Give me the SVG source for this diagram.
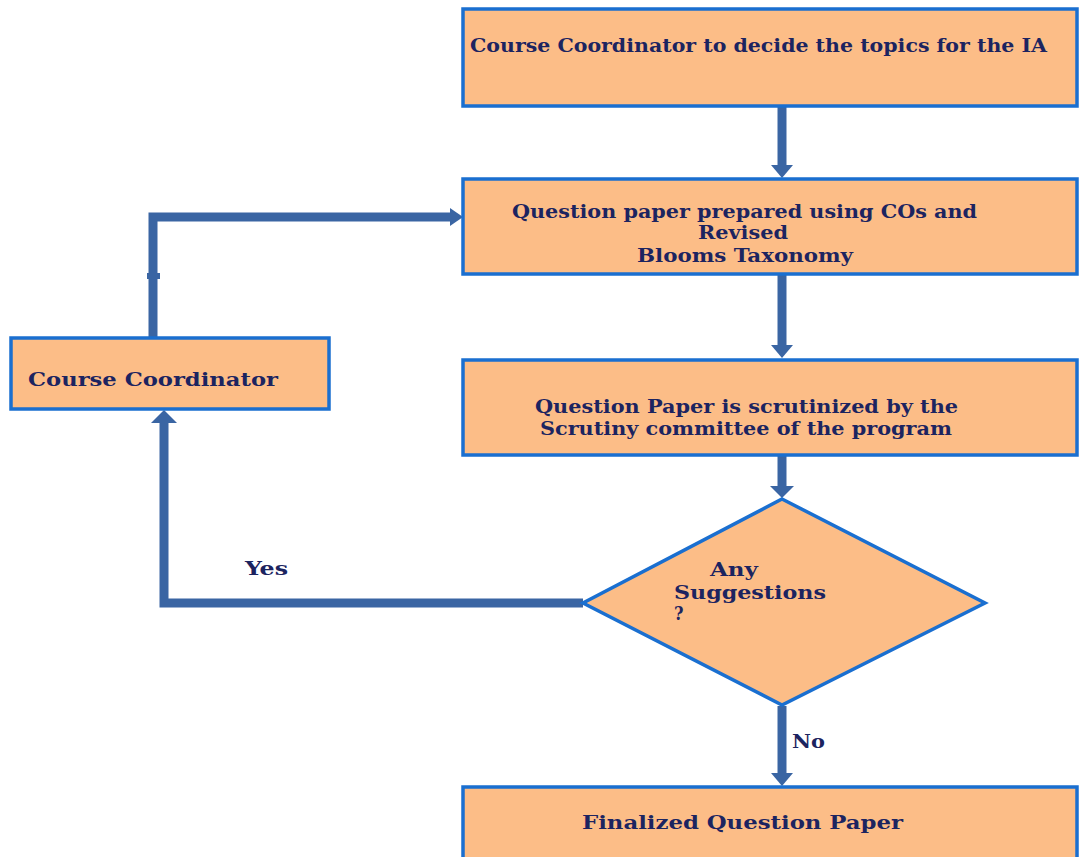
<svg xmlns="http://www.w3.org/2000/svg" width="1079" height="857" viewBox="0 0 1079 857">
<defs>
<style>
.box{fill:#fcbd87;stroke:#1a6fd0;stroke-width:3.5}
.t{font-family:"DejaVu Serif Condensed","DejaVu Serif","Liberation Serif",serif;font-weight:bold;font-size:18px;fill:#1c2460}
.ln{fill:none;stroke:#3a65a3;stroke-width:9}
.hd{fill:#3a65a3}
</style>
</defs>
<rect width="1079" height="857" fill="#ffffff"/>
<g id="connectors">
<line class="ln" x1="782" y1="106" x2="782" y2="166"/>
<polygon class="hd" points="771,165 793,165 782,178"/>
<line class="ln" x1="782" y1="275" x2="782" y2="346"/>
<polygon class="hd" points="771,345 793,345 782,358"/>
<line class="ln" x1="782" y1="456" x2="782" y2="487"/>
<polygon class="hd" points="770,486 794,486 782,498"/>
<line class="ln" x1="782" y1="706" x2="782" y2="774"/>
<polygon class="hd" points="771,773 793,773 782,786"/>
<polyline class="ln" points="583,603 164,603 164,422"/>
<polygon class="hd" points="151,423 177,423 164,410"/>
<polyline class="ln" points="153,338 153,217 452,217"/>
<polygon class="hd" points="450,208 450,226 463,217"/>
<rect class="hd" x="147" y="273" width="13" height="6"/>
</g>
<g id="node-topics">
<rect class="box" x="463" y="9" width="614" height="97"/>
<text class="t" x="470" y="52" textLength="577" lengthAdjust="spacingAndGlyphs">Course Coordinator to decide the topics for the IA</text>
</g>
<g id="node-prepared">
<rect class="box" x="463" y="179" width="614" height="95"/>
<text class="t" x="512" y="218" textLength="465" lengthAdjust="spacingAndGlyphs">Question paper prepared using COs and</text>
<text class="t" x="698" y="239" textLength="90" lengthAdjust="spacingAndGlyphs">Revised</text>
<text class="t" x="637" y="262" textLength="216" lengthAdjust="spacingAndGlyphs">Blooms Taxonomy</text>
</g>
<g id="node-scrutinized">
<rect class="box" x="463" y="360" width="614" height="95"/>
<text class="t" x="535" y="413" textLength="423" lengthAdjust="spacingAndGlyphs">Question Paper is scrutinized by the</text>
<text class="t" x="540" y="435" textLength="412" lengthAdjust="spacingAndGlyphs">Scrutiny committee of the program</text>
</g>
<g id="node-coordinator">
<rect class="box" x="11" y="338" width="318" height="71"/>
<text class="t" x="28" y="386" textLength="250" lengthAdjust="spacingAndGlyphs">Course Coordinator</text>
</g>
<g id="node-decision">
<polygon class="box" points="782,499 985,603 782,705 583,603"/>
<text class="t" x="710" y="576" textLength="48" lengthAdjust="spacingAndGlyphs">Any</text>
<text class="t" x="674" y="599" textLength="152" lengthAdjust="spacingAndGlyphs">Suggestions</text>
<text class="t" x="674" y="620">?</text>
</g>
<g id="node-final">
<rect class="box" x="463" y="787" width="614" height="72"/>
<text class="t" x="582" y="829" textLength="321" lengthAdjust="spacingAndGlyphs">Finalized Question Paper</text>
</g>
<g id="labels">
<text class="t" x="245" y="575" textLength="43" lengthAdjust="spacingAndGlyphs">Yes</text>
<text class="t" x="792" y="748" textLength="33" lengthAdjust="spacingAndGlyphs">No</text>
</g>
</svg>
